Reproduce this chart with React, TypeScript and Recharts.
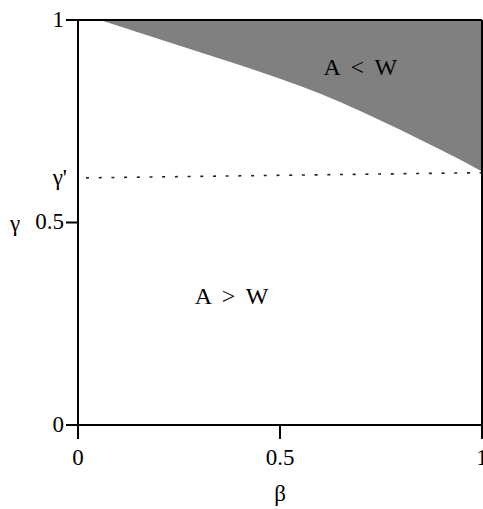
import { Area, ComposedChart, Line, ReferenceDot, ReferenceLine, XAxis, YAxis } from 'recharts'

// boundary between the two regions
const BETA = [0.055, 0.15, 0.25, 0.35, 0.45, 0.55, 0.65, 0.75, 0.85, 0.95, 1]
const GAMMA_BOUNDARY = [1, 0.969, 0.937, 0.905, 0.872, 0.837, 0.797, 0.751, 0.703, 0.653, 0.626]

// dotted gamma' line
const PRIME_BETA = [0, 1]
const PRIME_GAMMA = [0.61, 0.623]
const GAMMA_PRIME = 0.61

const X_TICKS = [0, 0.5, 1]
const Y_TICKS = [0, 0.5, GAMMA_PRIME, 1]

const REGION_LABELS = [
  { text: 'A < W', beta: 0.699, gamma: 0.886 },
  { text: 'A > W', beta: 0.38, gamma: 0.321 },
]

const FONT = '"Liberation Serif", "DejaVu Serif", serif'
const FONT_SIZE = 23
const INK = '#000'
const SHADE = '#808080'

const bandData = BETA.map((beta, i) => ({ beta, band: [GAMMA_BOUNDARY[i], 1] }))
const primeData = PRIME_BETA.map((beta, i) => ({ beta, gamma: PRIME_GAMMA[i] }))

type TickProps = { x: number; y: number; payload: { value: number } }

function GammaTick({ x, y, payload }: TickProps) {
  const isPrime = payload.value === GAMMA_PRIME
  return (
    <g>
      {!isPrime && <line x1={x + 2} x2={x + 14} y1={y} y2={y} stroke={INK} strokeWidth={2} />}
      <text
        x={isPrime ? x + 3 : x}
        y={y}
        dy="0.3em"
        textAnchor="end"
        fill={INK}
        fontSize={FONT_SIZE}
        fontFamily={FONT}
      >
        {isPrime ? "γ'" : String(payload.value)}
      </text>
    </g>
  )
}

const textStyle = { fill: INK, fontSize: FONT_SIZE, fontFamily: FONT }
const regionStyle = { fill: INK, fontSize: 24, fontFamily: FONT, wordSpacing: 5 }

export default function App() {
  return (
    <div style={{ position: 'absolute', left: 0, top: 0, width: 483, height: 509, background: '#fff' }}>
      <ComposedChart width={483} height={509} margin={{ top: 20, right: 1, bottom: 0, left: 0 }}>
        <XAxis
          dataKey="beta"
          type="number"
          domain={[0, 1]}
          ticks={X_TICKS}
          interval={0}
          height={84}
          tickSize={14}
          tickMargin={10}
          axisLine={{ stroke: INK, strokeWidth: 2 }}
          tickLine={{ stroke: INK, strokeWidth: 2 }}
          tick={textStyle}
          label={{ value: 'β', position: 'insideBottom', offset: 8, ...textStyle }}
        />
        <YAxis
          type="number"
          domain={[0, 1]}
          ticks={Y_TICKS}
          interval={0}
          width={78}
          tickSize={12}
          tickLine={false}
          axisLine={{ stroke: INK, strokeWidth: 2 }}
          tick={(props: TickProps) => <GammaTick {...props} />}
          label={{ value: 'γ', position: 'insideLeft', offset: 10, ...textStyle }}
        />
        <Area
          data={bandData}
          dataKey="band"
          type="monotone"
          fill={SHADE}
          fillOpacity={1}
          stroke="none"
          isAnimationActive={false}
        />
        <Line
          data={primeData}
          dataKey="gamma"
          type="linear"
          stroke="#222"
          strokeWidth={1.6}
          strokeDasharray="3 9.7"
          strokeDashoffset={4.7}
          dot={false}
          activeDot={false}
          isAnimationActive={false}
        />
        <ReferenceLine y={1} stroke={INK} strokeWidth={2} />
        <ReferenceLine x={1} stroke={INK} strokeWidth={2} />
        {REGION_LABELS.map((item) => (
          <ReferenceDot
            key={item.text}
            x={item.beta}
            y={item.gamma}
            r={1}
            fill="none"
            stroke="none"
            label={{ value: item.text, position: 'center', ...regionStyle }}
          />
        ))}
      </ComposedChart>
    </div>
  )
}
